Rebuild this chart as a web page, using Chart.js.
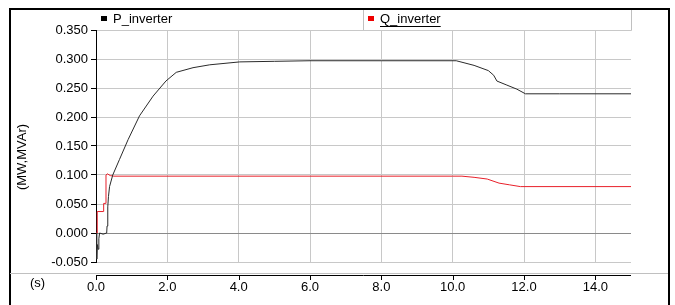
<!DOCTYPE html>
<html>
<head>
<meta charset="utf-8">
<script src="https://cdn.jsdelivr.net/npm/chart.js@4.4.1/dist/chart.umd.min.js"></script>
<style>
html,body{margin:0;padding:0;background:#fff;}
#wrap{width:675px;height:305px;position:relative;}
</style>
</head>
<body>
<div id="wrap"><canvas id="c" width="675" height="305"></canvas></div>
<script>
// ---- data ----
const seriesLabels = ["P_inverter", "Q_inverter"];
const pTime = [0, 0.02, 0.04, 0.06, 0.08, 0.1, 0.2, 0.3, 0.31, 0.33, 0.35, 0.38, 0.47, 0.66, 0.9, 1.22, 1.6, 1.96, 2.25, 2.72, 3.19, 4.03, 5.0, 6.0, 8.0, 10.1, 10.6, 11.0, 11.15, 11.24, 11.52, 11.8, 12.04, 13.0, 15.0];
const pValue = [0, -0.045, -0.02, -0.028, -0.01, 0, -0.002, 0, 0.012, 0.045, 0.063, 0.08, 0.1, 0.127, 0.161, 0.202, 0.236, 0.262, 0.277, 0.285, 0.29, 0.295, 0.296, 0.297, 0.297, 0.297, 0.289, 0.28, 0.272, 0.262, 0.255, 0.248, 0.24, 0.24, 0.24];
const qTime = [0, 0.03, 0.035, 0.21, 0.215, 0.26, 0.28, 0.32, 0.4, 0.5, 10.0, 10.26, 10.6, 10.97, 11.3, 11.6, 11.9, 15.0];
const qValue = [0, 0, 0.037, 0.037, 0.051, 0.051, 0.1, 0.102, 0.099, 0.098, 0.098, 0.098, 0.096, 0.093, 0.086, 0.083, 0.08, 0.08];
const xTicks = [0, 2, 4, 6, 8, 10, 12, 14];
const yTicks = [-0.05, 0, 0.05, 0.1, 0.15, 0.2, 0.25, 0.3, 0.35];
const yTitle = "(MW,MVAr)";
const xTitle = "(s)";

const FONT = "'Liberation Sans', Arial, sans-serif";
const colors = ["#2a2a2a", "#e8202a"];

const toXY = (t, v) => t.map((x, i) => ({x: x, y: v[i]}));

const decor = {
  id: 'decor',
  beforeDraw(chart) {
    const c = chart.ctx, a = chart.chartArea;
    c.save();
    // header cells
    c.strokeStyle = '#c0c0c0'; c.lineWidth = 1;
    c.beginPath();
    c.moveTo(363.5, 9); c.lineTo(363.5, 30.5);
    c.moveTo(a.right + 0.5, 9); c.lineTo(a.right + 0.5, 30.5);
    c.moveTo(a.left, 30.5); c.lineTo(a.right + 0.5, 30.5);
    c.stroke();
    c.restore();
  },
  afterDraw(chart) {
    const c = chart.ctx, a = chart.chartArea, xs = chart.scales.x;
    c.save();
    // outer frame
    c.strokeStyle = '#000'; c.lineWidth = 2;
    c.beginPath();
    c.moveTo(10, 320); c.lineTo(10, 9); c.lineTo(669, 9); c.lineTo(669, 320);
    c.stroke();
    // separator
    c.strokeStyle = '#c0c0c0'; c.lineWidth = 1;
    c.beginPath(); c.moveTo(10, 273.5); c.lineTo(668, 273.5); c.stroke();
    // x axis line + ticks
    c.strokeStyle = '#000'; c.lineWidth = 1;
    c.beginPath();
    c.moveTo(a.left, 275.5); c.lineTo(a.right, 275.5);
    xTicks.forEach(t => { const px = Math.round(xs.getPixelForValue(t)) + 0.5; c.moveTo(px, 275.5); c.lineTo(px, 280); });
    c.stroke();
    // titles
    c.fillStyle = '#000';
    c.font = '13px ' + FONT;
    c.textAlign = 'center'; c.textBaseline = 'middle';
    c.fillText(xTitle, 37.5, 283);
    c.save();
    c.translate(22, 157); c.rotate(-Math.PI / 2);
    c.fillText(yTitle, 0, 0);
    c.restore();
    // legend
    c.textAlign = 'left';
    const items = [{x: 101, tx: 113}, {x: 368, tx: 380}];
    chart.data.datasets.forEach((ds, i) => {
      const it = items[i];
      c.fillStyle = i === 0 ? '#000' : '#ee0000';
      c.fillRect(it.x, 16, 6, 5);
      c.fillStyle = '#000';
      c.fillText(ds.label, it.tx, 19.5);
      if (i === 1) {
        const w = c.measureText(ds.label).width;
        c.fillRect(it.tx, 26, w, 1);
      }
    });
    c.restore();
  }
};

new Chart(document.getElementById('c'), {
  type: 'scatter',
  data: {
    datasets: [
      {label: seriesLabels[0], data: toXY(pTime, pValue), showLine: true, borderColor: colors[0], backgroundColor: colors[0], borderWidth: 1, pointRadius: 0, tension: 0},
      {label: seriesLabels[1], data: toXY(qTime, qValue), showLine: true, borderColor: colors[1], backgroundColor: colors[1], borderWidth: 1, pointRadius: 0, tension: 0}
    ]
  },
  options: {
    responsive: false,
    animation: false,
    devicePixelRatio: 1,
    layout: {padding: {left: 0, top: 30, right: 44, bottom: 0}},
    plugins: {legend: {display: false}, tooltip: {enabled: false}},
    scales: {
      x: {
        type: 'linear', min: 0, max: 15,
        afterFit(s) { s.height = 43; },
        afterBuildTicks(s) { s.ticks = xTicks.map(v => ({value: v})); },
        ticks: {color: '#000', font: {family: FONT, size: 13}, padding: 18, maxRotation: 0, callback: v => Number(v).toFixed(1)},
        grid: {color: '#c8c8c8', drawTicks: false, lineWidth: 1},
        border: {display: false}
      },
      y: {
        min: -0.05, max: 0.35,
        afterFit(s) { s.width = 96; },
        afterBuildTicks(s) { s.ticks = yTicks.map(v => ({value: v})); },
        ticks: {color: '#000', font: {family: FONT, size: 13}, padding: 3, callback: v => Number(v).toFixed(3)},
        grid: {color: ctx => (ctx.tick && Math.abs(ctx.tick.value) < 1e-9) ? '#8a8a8a' : '#c8c8c8', tickColor: '#000', tickLength: 5, lineWidth: 1},
        border: {color: '#000', width: 1}
      }
    }
  },
  plugins: [decor]
});
</script>
</body>
</html>
